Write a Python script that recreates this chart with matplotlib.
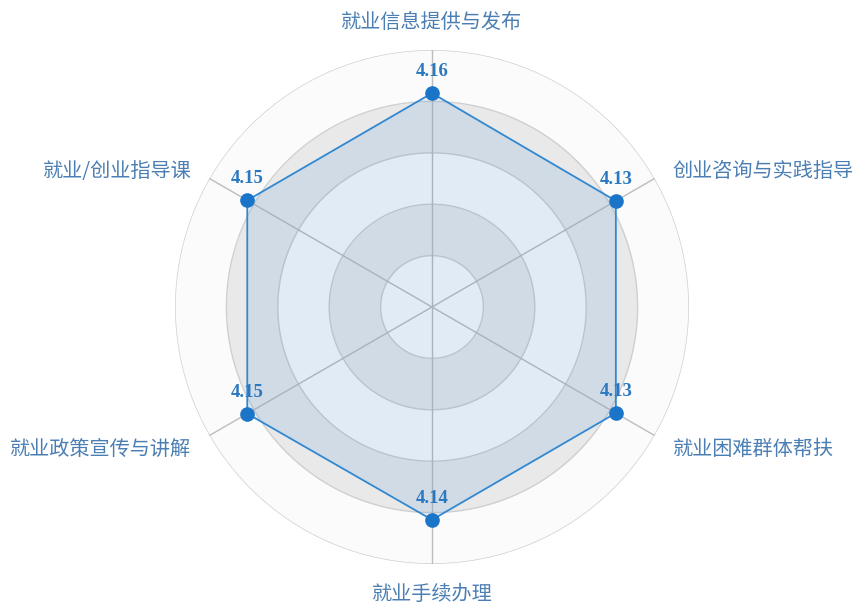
import numpy as np
import matplotlib
matplotlib.use("Agg")
import matplotlib.pyplot as plt

plt.rcParams['font.family'] = ['Noto Sans CJK SC', 'DejaVu Sans']

categories = ["就业信息提供与发布", "创业咨询与实践指导", "就业困难群体帮扶",
              "就业手续办理", "就业政策宣传与讲解", "就业/创业指导课"]
values = [4.16, 4.13, 4.13, 4.14, 4.15, 4.15]
rmax = 5
rings = [1, 2, 3, 4, 5]

W, H = 856, 605
cx, cy, R = 432, 307, 257
fig = plt.figure(figsize=(W / 100, H / 100), dpi=100)
ax = fig.add_axes([(cx - R) / W, (H - cy - R) / H, 2 * R / W, 2 * R / H], polar=True)
ax.set_theta_zero_location('N')
ax.set_theta_direction(-1)
ax.set_ylim(0, rmax)
ax.set_facecolor('none')
ax.grid(False)
ax.spines['polar'].set_visible(False)
ax.set_xticks([])
ax.set_yticks([])

full = np.linspace(0, 2 * np.pi, 400)
band_colors = ['#fbfbfb', '#e9e9e9']
prev = 0
for i, r in enumerate(rings):
    ax.fill_between(full, prev, r, color=band_colors[i % 2], lw=0, zorder=0)
    ax.plot(full, np.full_like(full, r), color='#cfcfcf', lw=1.0, zorder=1)
    prev = r

n = len(categories)
angles = np.arange(n) * 2 * np.pi / n
for a in angles:
    ax.plot([a, a], [0, rmax], color='#bdbdbd', lw=1.0, zorder=1)

closed_a = np.append(angles, angles[0])
closed_v = np.append(values, values[0])
ax.fill(closed_a, closed_v, color=(0.0, 0.39, 0.78), alpha=0.10, lw=0, zorder=2)
ax.plot(closed_a, closed_v, color='#3288d0', lw=1.3, zorder=3)
ax.plot(angles, values, 'o', color='#1a74c8', markersize=9.5, zorder=4)

for a, v in zip(angles, values):
    ax.annotate(f"{v:.2f}", (a, v), xytext=(0, 15.5), textcoords='offset points',
                ha='center', va='center', fontsize=13.5, fontweight='bold',
                color='#2a78c0', family=['Liberation Serif'], zorder=5)

label_color = '#4b7fb3'
fs = 14.5
for a, lab in zip(angles, categories):
    deg = np.degrees(a) % 360
    if abs(deg) < 1:
        ax.annotate(lab, (a, rmax), xytext=(0, 20), textcoords='offset points',
                    ha='center', va='center', fontsize=fs, color=label_color)
    elif abs(deg - 180) < 1:
        ax.annotate(lab, (a, rmax), xytext=(0, -22), textcoords='offset points',
                    ha='center', va='center', fontsize=fs, color=label_color)
    elif deg < 180:
        dy = 5 if deg < 90 else -10
        ax.annotate(lab, (a, rmax), xytext=(13, dy), textcoords='offset points',
                    ha='left', va='center', fontsize=fs, color=label_color)
    else:
        dy = 5 if deg > 270 else -10
        ax.annotate(lab, (a, rmax), xytext=(-13, dy), textcoords='offset points',
                    ha='right', va='center', fontsize=fs, color=label_color)

fig.savefig("out.png", dpi=100)
